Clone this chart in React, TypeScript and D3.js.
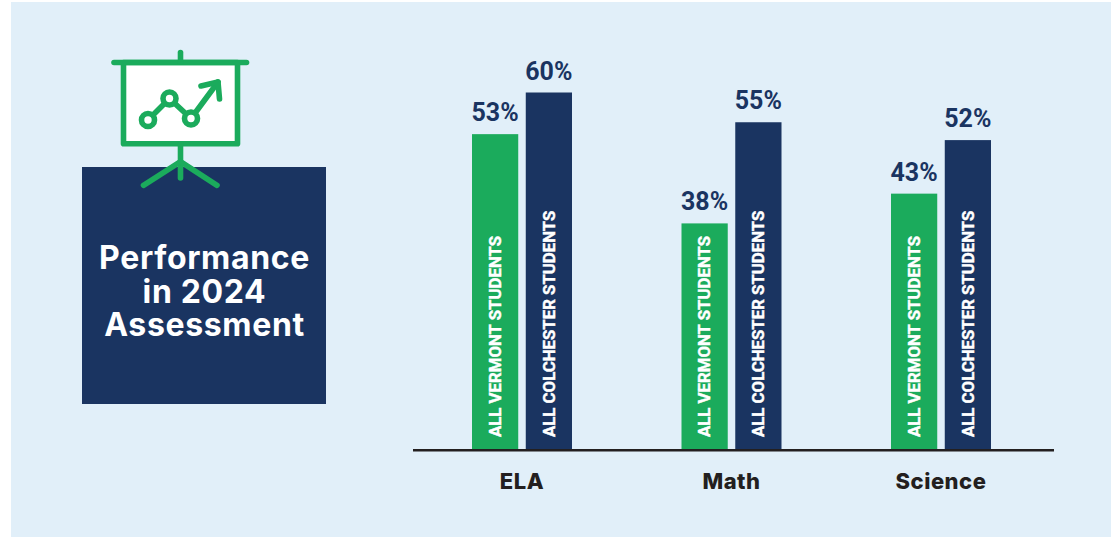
import React from "react";
import * as d3 from "d3";

const categories = ["ELA", "Math", "Science"];
const seriesNames = ["ALL VERMONT STUDENTS", "ALL COLCHESTER STUDENTS"];
const vermontValues = [53, 38, 43];
const colchesterValues = [60, 55, 52];
const titleLines = ["Performance", "in 2024", "Assessment"];
const seriesColors = ["#1bab5c", "#1a3461"];

const WIDTH = 1111;
const HEIGHT = 537;
const BASELINE = 449.5;
const GREEN = seriesColors[0];
const NAVY = seriesColors[1];

const y = d3.scaleLinear().domain([0, 60]).range([BASELINE, 92.5]);
const x = d3.scaleBand<string>().domain(categories).range([417.25, 1045.75]).paddingInner(0).paddingOuter(0);
const inner = d3.scaleBand<number>().domain([0, 1]).range([-50, 50]).paddingInner(0.14).paddingOuter(0);

// Projector-screen pictogram above the title block
function ScreenIcon() {
  const dots: [number, number][] = [[148, 120], [169.5, 98.5], [191, 118.5]];
  const trend = d3.line()(dots);
  return (
    <g fill="none" stroke={GREEN} strokeWidth={5.6} strokeLinecap="round" strokeLinejoin="round">
      <rect x={123.5} y={62.5} width={114} height={81.3} fill="#ffffff" />
      <line x1={114} y1={62.5} x2={246.5} y2={62.5} />
      <line x1={180.5} y1={52.5} x2={180.5} y2={62} />
      <line x1={180.5} y1={144} x2={180.5} y2={178} />
      <line x1={180.5} y1={161.7} x2={143.5} y2={185.3} />
      <line x1={180.5} y1={161.7} x2={217} y2={185.3} />
      <path d={trend ?? ""} />
      <line x1={191} y1={118.5} x2={218} y2={82} />
      <path d="M201 86 L218 82 L219.5 99" />
      {dots.map(([cx, cy], i) => (
        <circle key={i} cx={cx} cy={cy} r={6.5} fill="#ffffff" />
      ))}
    </g>
  );
}

export default function App() {
  return (
    <svg
      width={WIDTH}
      height={HEIGHT}
      viewBox={`0 0 ${WIDTH} ${HEIGHT}`}
      style={{ position: "absolute", left: 0, top: 0, display: "block", background: "#ffffff" }}
    >
      <rect x={11} y={2} width={WIDTH - 11} height={HEIGHT - 2} fill="#e1eff9" />

      <rect x={82} y={167} width={244} height={237} fill={NAVY} />
      <ScreenIcon />
      {titleLines.map((line, i) => (
        <text
          key={line}
          x={204.5}
          y={269 + i * 33.5}
          textAnchor="middle"
          fill="#ffffff"
          fontFamily="Inter, sans-serif"
          fontWeight={700}
          fontSize={32}
          letterSpacing={0.65}
        >
          {line}
        </text>
      ))}

      {categories.map((cat, c) => {
        const center = (x(cat) ?? 0) + x.bandwidth() / 2;
        return (
          <g key={cat}>
            {[vermontValues[c], colchesterValues[c]].map((v, s) => {
              const bx = center + (inner(s) ?? 0);
              const bw = inner.bandwidth();
              const mid = bx + bw / 2;
              return (
                <g key={s}>
                  <rect x={bx} y={y(v)} width={bw} height={BASELINE - y(v)} fill={seriesColors[s]} />
                  <text
                    x={mid}
                    y={y(v) - 13}
                    textAnchor="middle"
                    fill={NAVY}
                    fontFamily="Roboto, sans-serif"
                    fontWeight={700}
                    fontSize={25}
                  >
                    {v}%
                  </text>
                  <text
                    transform={`translate(${mid + 5.8},437) rotate(-90)`}
                    fill="#ffffff"
                    stroke="#ffffff"
                    strokeWidth={0.4}
                    fontFamily="Roboto, sans-serif"
                    fontWeight={700}
                    fontSize={16.8}
                  >
                    {seriesNames[s]}
                  </text>
                </g>
              );
            })}
            <text
              x={center}
              y={489}
              textAnchor="middle"
              fill="#231f20"
              fontFamily="Inter, sans-serif"
              fontWeight={800}
              fontSize={22}
              letterSpacing={0.5}
            >
              {cat}
            </text>
          </g>
        );
      })}

      <line x1={413} y1={450.2} x2={1054} y2={450.2} stroke="#231f20" strokeWidth={2.4} />
    </svg>
  );
}
